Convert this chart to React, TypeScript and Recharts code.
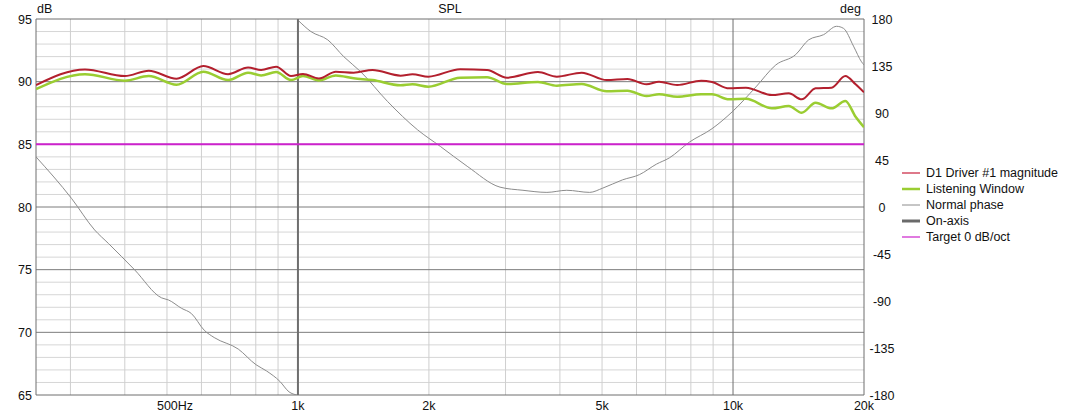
import React from 'react';
import { ComposedChart, Line, XAxis, YAxis, ReferenceLine } from 'recharts';

// magnitude curves (dB), shared frequency points (Hz)
const MAG_FREQS = [250, 324, 400, 454, 526, 606, 691, 768, 823, 891, 964, 1027, 1117, 1222, 1343, 1484, 1721, 1833, 1994, 2360, 2721, 3023, 3561, 3936, 4489, 5121, 5720, 6325, 6760, 7440, 8450, 8950, 9790, 10710, 12280, 13430, 14380, 15480, 16850, 18120, 19130, 20000];
const DRIVER_DB = [89.73, 90.98, 90.45, 90.87, 90.24, 91.25, 90.6, 91.14, 90.93, 91.2, 90.45, 90.62, 90.26, 90.8, 90.72, 90.93, 90.48, 90.59, 90.4, 91.0, 90.93, 90.32, 90.77, 90.4, 90.72, 90.13, 90.21, 89.79, 90.0, 89.73, 90.08, 89.97, 89.47, 89.52, 88.93, 89.07, 88.59, 89.47, 89.52, 90.45, 89.79, 89.15];
const LW_DB = [89.4, 90.6, 90.08, 90.45, 89.76, 90.8, 90.13, 90.72, 90.5, 90.77, 90.13, 90.45, 90.1, 90.5, 90.27, 90.13, 89.71, 89.79, 89.6, 90.32, 90.35, 89.81, 89.97, 89.68, 89.81, 89.23, 89.27, 88.85, 89.0, 88.8, 88.99, 88.99, 88.59, 88.64, 87.87, 88.06, 87.52, 88.32, 87.87, 88.46, 87.2, 86.36];

// phase (deg), wraps at 1k -> null gap
const PHASE_FREQS = [250, 302, 341, 367, 421, 486, 504, 540, 569, 609, 642, 729, 801, 847, 909, 954, 995, 1000, 1005, 1071, 1171, 1274, 1394, 1607, 1882, 2125, 2449, 2914, 3290, 3734, 4148, 4683, 5014, 5572, 6095, 6665, 7138, 7930, 8950, 9950, 11290, 12540, 13940, 14920, 16150, 17300, 17950, 18920, 19740, 20000];
const PHASE_DEG = [48, 8, -22, -35, -60, -87, -89, -97, -102, -118, -125, -136, -151, -157, -167, -177, -180, null, 178, 168, 160, 144, 129.5, 101, 74, 58, 39, 19, 16, 14, 16, 14, 18, 26, 31, 41, 47, 62, 75, 91, 115, 136, 146, 160, 165, 173, 171, 154, 139, 136];

const TARGET_FREQS = [250, 20000];
const TARGET_DB = [85, 85];

const FREQ_TICKS = [500, 1000, 2000, 5000, 10000, 20000];
const DB_TICKS = [65, 70, 75, 80, 85, 90, 95];
const DEG_TICKS = [-180, -135, -90, -45, 0, 45, 90, 135, 180];
const MINOR_FREQS = [300, 400, 500, 600, 700, 800, 900, 2000, 3000, 4000, 5000, 6000, 7000, 8000, 9000];
const MAJOR_FREQS = [1000, 10000];

const FONT = 'Arial, "Liberation Sans", sans-serif';

const magData = MAG_FREQS.map((f, i) => ({ f, driver: DRIVER_DB[i], lw: LW_DB[i] }));
const phaseData = PHASE_FREQS.map((f, i) => ({ f, phase: PHASE_DEG[i] }));
const targetData = TARGET_FREQS.map((f, i) => ({ f, target: TARGET_DB[i] }));

const minorDb: number[] = [];
for (let v = 66; v < 95; v++) if (v % 5 !== 0) minorDb.push(v);

const FreqTick = ({ x, y, payload }: any) => {
  const v = payload.value;
  const label = v === 500 ? '500Hz' : v >= 1000 ? `${v / 1000}k` : `${v}`;
  return (
    <text x={v === 500 ? x - 10 : x} y={y} dy={14.5} textAnchor={v === 500 ? 'start' : 'middle'} fontSize={12.5} fontFamily={FONT} fill="#111">
      {label}
    </text>
  );
};

const DbTick = ({ y, payload }: any) => (
  <text x={32} y={y} dy={4.5} textAnchor="end" fontSize={12.5} fontFamily={FONT} fill="#111">
    {payload.value}
  </text>
);

const DegTick = ({ y, payload }: any) => (
  <text x={882} y={y} dy={4.5} textAnchor="middle" fontSize={12.5} fontFamily={FONT} fill="#111">
    {payload.value}
  </text>
);

const legendItems = [
  { name: 'D1 Driver #1 magnitude', color: '#c8203c', width: 1.2 },
  { name: 'Listening Window', color: '#9acd32', width: 2.5 },
  { name: 'Normal phase', color: '#8c8c8c', width: 1 },
  { name: 'On-axis', color: '#6a6a6a', width: 3 },
  { name: 'Target 0 dB/oct', color: '#cc22cc', width: 1.2 },
];

export default function App() {
  return (
    <div style={{ position: 'relative', width: 1073, height: 411, background: '#fff', fontFamily: FONT }}>
      <style>{'body{margin:0;background:#fff}'}</style>
      <ComposedChart width={1073} height={411} margin={{ top: 19, right: 0, bottom: 0, left: 0 }}>
        <XAxis
          xAxisId="f"
          dataKey="f"
          type="number"
          scale="log"
          domain={[250, 20000]}
          ticks={FREQ_TICKS}
          allowDataOverflow
          height={16}
          tickSize={0}
          tickMargin={0}
          axisLine={false}
          tick={<FreqTick />}
        />
        <YAxis yAxisId="db" domain={[65, 95]} ticks={DB_TICKS} width={36} tickSize={0} axisLine={false} tick={<DbTick />} allowDataOverflow />
        <YAxis yAxisId="deg" orientation="right" domain={[-180, 180]} ticks={DEG_TICKS} width={209} tickSize={0} axisLine={false} tick={<DegTick />} allowDataOverflow />

        {minorDb.map((v) => (
          <ReferenceLine key={`hm${v}`} xAxisId="f" yAxisId="db" y={v} stroke="#d6d6d6" strokeWidth={1} />
        ))}
        {MINOR_FREQS.map((v) => (
          <ReferenceLine key={`vm${v}`} xAxisId="f" yAxisId="db" x={v} stroke="#cfcfcf" strokeWidth={1} />
        ))}
        {[70, 75, 80, 85, 90].map((v) => (
          <ReferenceLine key={`hM${v}`} xAxisId="f" yAxisId="db" y={v} stroke="#7c7c7c" strokeWidth={1} />
        ))}
        {MAJOR_FREQS.map((v) => (
          <ReferenceLine key={`vM${v}`} xAxisId="f" yAxisId="db" x={v} stroke="#6e6e6e" strokeWidth={v === 1000 ? 2 : 1} />
        ))}
        <ReferenceLine xAxisId="f" yAxisId="db" y={95} stroke="#6e6e6e" />
        <ReferenceLine xAxisId="f" yAxisId="db" y={65} stroke="#6e6e6e" />
        <ReferenceLine xAxisId="f" yAxisId="db" x={250} stroke="#6e6e6e" />
        <ReferenceLine xAxisId="f" yAxisId="db" x={20000} stroke="#6e6e6e" />

        <Line xAxisId="f" yAxisId="deg" data={phaseData} dataKey="phase" type="monotone" stroke="#8c8c8c" strokeWidth={1} dot={false} isAnimationActive={false} />
        <Line xAxisId="f" yAxisId="db" data={targetData} dataKey="target" type="linear" stroke="#cc22cc" strokeWidth={2} dot={false} isAnimationActive={false} />
        <Line xAxisId="f" yAxisId="db" data={magData} dataKey="lw" type="monotone" stroke="#9acd32" strokeWidth={2.5} dot={false} isAnimationActive={false} />
        <Line xAxisId="f" yAxisId="db" data={magData} dataKey="driver" type="monotone" stroke="#b3202e" strokeWidth={2} dot={false} isAnimationActive={false} />
      </ComposedChart>

      <div style={{ position: 'absolute', left: 0, width: 900, top: 2, textAlign: 'center', fontSize: 12.5, color: '#111' }}>SPL</div>
      <div style={{ position: 'absolute', left: 37, top: 2, fontSize: 12.5, color: '#111' }}>dB</div>
      <div style={{ position: 'absolute', left: 840, top: 2, fontSize: 12.5, color: '#111' }}>deg</div>

      <div style={{ position: 'absolute', left: 902, top: 165 }}>
        {legendItems.map((it) => (
          <div key={it.name} style={{ display: 'flex', alignItems: 'center', height: 16, fontSize: 12.5, color: '#111', whiteSpace: 'nowrap' }}>
            <svg width={24} height={16} style={{ display: 'block' }}>
              <line x1={0} y1={8} x2={18} y2={8} stroke={it.color} strokeWidth={it.width} />
            </svg>
            {it.name}
          </div>
        ))}
      </div>
    </div>
  );
}
